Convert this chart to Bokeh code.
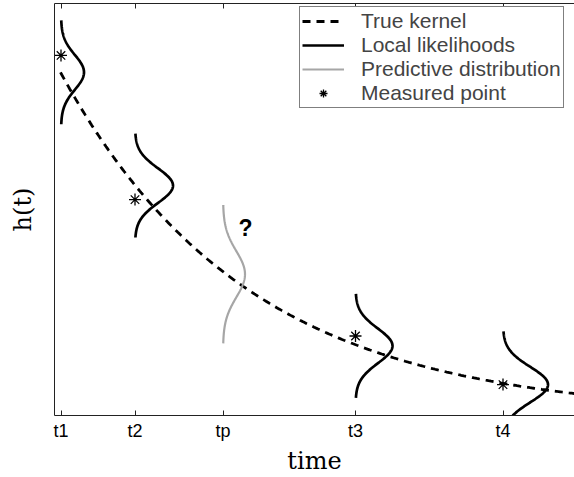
import numpy as np
from bokeh.plotting import figure
from bokeh.models import (Range1d, LinearAxis, FixedTicker, Legend, LegendItem, Label,
                          CustomJSTickFormatter)
from bokeh.embed import file_html
from bokeh.resources import INLINE

# ---- data ----
tick_pos = [0.13, 1.61, 3.37, 6.02, 8.97]
tick_labels = ["t1", "t2", "tp", "t3", "t4"]

# true kernel h(t) = amp * exp(-rate * t)
kernel_amp = 0.86
kernel_rate = 0.2675
kernel_t_start = 0.12
kernel_t_end = 10.5

# measured points
meas_t = [0.13, 1.61, 6.02, 8.97]
meas_h = [0.874, 0.524, 0.193, 0.075]

# local likelihoods (vertical gaussians drawn at each measurement time)
like_mean = [0.833, 0.558, 0.169, 0.075]
like_sigma = [0.042, 0.042, 0.042, 0.043]
like_height = [0.46, 0.76, 0.74, 0.90]

# predictive distribution at tp
pred_t = 3.37
pred_mean = 0.343
pred_sigma = 0.056
pred_height = 0.44

question_t = 3.82
question_h = 0.455

# ---- figure ----
p = figure(width=574, height=477, output_backend="svg", toolbar_location=None,
           x_range=Range1d(0, 10.4), y_range=Range1d(0, 1),
           x_axis_location=None, y_axis_location=None,
           min_border_left=54, min_border_right=0, min_border_top=3, min_border_bottom=60)
p.grid.grid_line_color = None
p.outline_line_color = None
p.background_fill_color = "white"

# kernel
kt = np.linspace(kernel_t_start, kernel_t_end, 400)
kh = kernel_amp * np.exp(-kernel_rate * kt)
r_kernel = p.line(kt, kh, line_color="black", line_width=2.8, line_dash="8 6")

# likelihood gaussians
xs, ys = [], []
for t0, m, s, a in zip(meas_t, like_mean, like_sigma, like_height):
    yy = np.linspace(m - 3 * s, m + 3 * s, 200)
    xx = t0 + a * np.exp(-0.5 * ((yy - m) / s) ** 2)
    xs.append(xx)
    ys.append(yy)
r_like = p.multi_line(xs, ys, line_color="black", line_width=2.7)

# predictive gaussian
py = np.linspace(pred_mean - 3 * pred_sigma, pred_mean + 3 * pred_sigma, 200)
px = pred_t + pred_height * np.exp(-0.5 * ((py - pred_mean) / pred_sigma) ** 2)
r_pred = p.line(px, py, line_color="#a6a6a6", line_width=2.2)

# measured points
r_meas = p.scatter(meas_t, meas_h, marker="asterisk", size=12, line_color="black", line_width=1.3)

p.add_layout(Label(x=question_t, y=question_h, text="?", text_font="Liberation Sans",
                   text_font_style="bold", text_font_size="23px", text_align="center",
                   text_baseline="middle", text_color="black"))

# axes
overrides = {t: l for t, l in zip(tick_pos, tick_labels)}
xb = LinearAxis(ticker=FixedTicker(ticks=tick_pos), major_label_overrides=overrides,
                major_tick_in=5, major_tick_out=0, minor_tick_line_color=None,
                major_label_text_font="Liberation Sans", major_label_text_font_size="18px",
                major_label_standoff=5, major_label_text_color="black",
                axis_label="time", axis_label_text_font="DejaVu Serif",
                axis_label_text_font_size="24px", axis_label_text_font_style="normal",
                axis_label_text_color="black",
                axis_label_standoff=3, axis_line_color="#222222", major_tick_line_color="#222222")
p.add_layout(xb, "below")

xt = LinearAxis(ticker=FixedTicker(ticks=tick_pos), formatter=CustomJSTickFormatter(code="return ''"),
                major_label_standoff=0, major_tick_in=5, major_tick_out=0,
                minor_tick_line_color=None, axis_line_color="#222222",
                major_tick_line_color="#222222")
p.add_layout(xt, "above")

yl = LinearAxis(ticker=FixedTicker(ticks=[]), axis_label="h(t)", axis_label_text_font="DejaVu Serif",
                axis_label_text_font_size="24px", axis_label_text_font_style="normal",
                axis_label_text_color="black",
                axis_label_standoff=18, major_tick_in=0, major_tick_out=0,
                minor_tick_line_color=None, axis_line_color="#222222")
p.add_layout(yl, "left")

legend = Legend(items=[LegendItem(label="True kernel", renderers=[r_kernel]),
                       LegendItem(label="Local likelihoods", renderers=[r_like]),
                       LegendItem(label="Predictive distribution", renderers=[r_pred]),
                       LegendItem(label="Measured point", renderers=[r_meas])],
                location=(245, 307), margin=0, padding=2, spacing=0,
                glyph_width=42, glyph_height=20, label_height=20, label_standoff=17,
                label_text_font="Liberation Sans", label_text_font_size="21px",
                border_line_color="black", border_line_width=1,
                background_fill_color="white", background_fill_alpha=1)
p.add_layout(legend)

open("out.html", "w").write(file_html(p, INLINE))
